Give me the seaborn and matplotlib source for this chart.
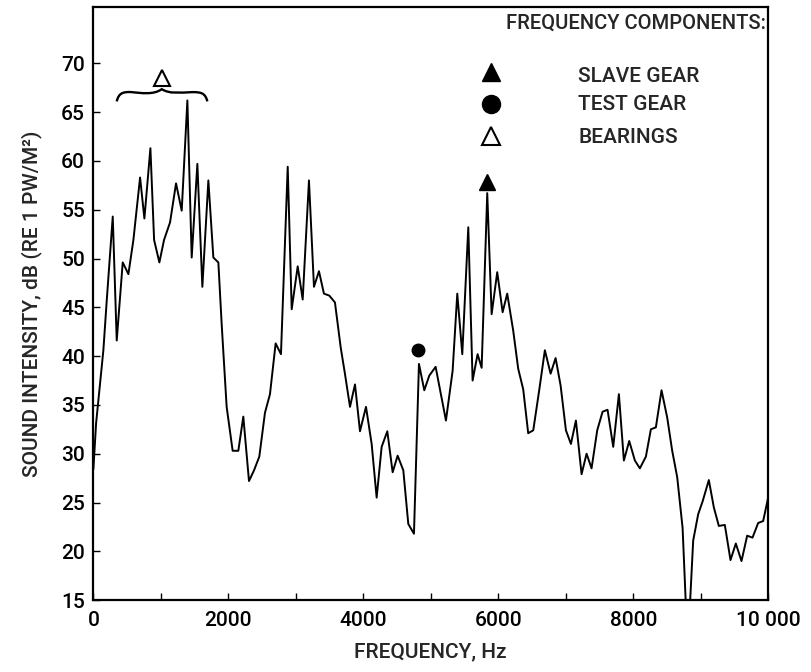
# -*- coding: utf-8 -*-
#
#  Sound intensity spectrum of a gear test rig, with frequency components marked.
#
import numpy as np
import pandas as pan
import seaborn as sns
import matplotlib.pyplot as plt
from matplotlib.path import Path
from matplotlib.patches import PathPatch

# spectrum
freq_hz = [0, 40, 148, 198, 287, 346, 435, 519, 593, 692, 756, 845, 900, 978,
           1047, 1136, 1225, 1309, 1393, 1457, 1541, 1615, 1704, 1778, 1852,
           1901, 1975, 2064, 2148, 2222, 2306, 2381, 2459, 2543, 2617, 2701,
           2780, 2880, 2939, 3028, 3102, 3195, 3269, 3343, 3417, 3496, 3580,
           3665, 3728, 3803, 3877, 3951, 4040, 4124, 4198, 4272, 4356, 4435,
           4509, 4593, 4667, 4751, 4825, 4904, 4978, 5072, 5225, 5324, 5393,
           5467, 5556, 5620, 5694, 5754, 5837, 5902, 5985, 6065, 6133, 6222,
           6296, 6370, 6444, 6519, 6607, 6691, 6776, 6850, 6924, 7003, 7077,
           7151, 7235, 7309, 7383, 7467, 7546, 7620, 7704, 7788, 7862, 7941,
           8025, 8099, 8188, 8262, 8336, 8420, 8504, 8578, 8652, 8732, 8808,
           8889, 8963, 9028, 9121, 9195, 9269, 9358, 9442, 9521, 9605, 9689,
           9768, 9852, 9926, 10000]
intensity_db = [28.4, 33.1, 40.6, 45.7, 54.3, 41.6, 49.6, 48.4, 51.9, 58.3, 54.1,
                61.3, 51.9, 49.6, 51.9, 53.7, 57.7, 54.9, 66.2, 50.1, 59.7, 47.1,
                58.0, 50.1, 49.6, 43.3, 34.8, 30.3, 30.3, 33.8, 27.2, 28.3, 29.7,
                34.2, 36.1, 41.3, 40.2, 59.4, 44.8, 49.2, 45.8, 58.0, 47.1, 48.7,
                46.4, 46.2, 45.5, 40.9, 38.2, 34.8, 37.1, 32.3, 34.8, 31.0, 25.5,
                30.7, 32.3, 28.1, 29.8, 28.3, 22.8, 21.8, 39.2, 36.5, 38.0, 38.9,
                33.4, 38.5, 46.4, 40.2, 53.2, 37.5, 40.2, 38.8, 56.7, 44.3, 48.6,
                44.5, 46.4, 42.6, 38.7, 36.6, 32.1, 32.4, 36.5, 40.6, 38.2, 39.8,
                37.0, 32.4, 31.0, 33.4, 27.9, 30.0, 28.5, 32.4, 34.3, 34.5, 30.7,
                36.1, 29.3, 31.3, 29.3, 28.5, 29.7, 32.5, 32.7, 36.5, 33.7, 30.3,
                27.6, 22.4, 10.0, 21.1, 23.8, 25.1, 27.3, 24.5, 22.6, 22.7, 19.1,
                20.8, 19.0, 21.6, 21.4, 22.9, 23.1, 25.5]

# component markers on the spectrum
slave_gear = (5828, 57.8)
test_gear = (4815, 40.6)
bearings = (1013, 68.5)
bearing_span = (346, 1689)

legend_labels = ['SLAVE GEAR', 'TEST GEAR', 'BEARINGS']
legend_y = [69.1, 65.8, 62.6]

y_ticks = list(range(15, 71, 5))
x_ticks = list(range(0, 10001, 1000))
x_labels = ['0', '', '2000', '', '4000', '', '6000', '', '8000', '', '10 000']

sns.set_theme(style='white')
plt.rcParams['font.family'] = ['Roboto', 'DejaVu Sans']
plt.rcParams['font.weight'] = 'medium'
plt.rcParams['axes.labelweight'] = 'medium'
plt.rcParams['axes.linewidth'] = 1.6
plt.rcParams['axes.edgecolor'] = 'black'

df = pan.DataFrame({'freq': freq_hz, 'db': intensity_db})

fig = plt.figure(figsize=(8.12, 6.72), dpi=100)
ax = fig.add_axes([0.115, 0.107, 0.831, 0.883])

sns.lineplot(data=df, x='freq', y='db', color='black', lw=1.4,
             estimator=None, sort=False, ax=ax)

ax.plot(*slave_gear, marker='^', ms=11, color='black', ls='none')
ax.plot(*test_gear, marker='o', ms=9, color='black', ls='none')
ax.plot(*bearings, marker='^', ms=11, mfc='white', mec='black', mew=1.5, ls='none')

# curly brace over the bearing range
x0, x1 = bearing_span
xm = bearings[0]
verts = [(x0, 66.1), (x0 + 30, 66.95), (x0 + 90, 67.1), (x0 + 220, 67.05),
         (xm - 300, 66.95), (xm - 120, 66.75), (xm, 67.35),
         (xm + 120, 66.85), (xm + 250, 67.0), (x1 - 220, 67.05),
         (x1 - 90, 67.05), (x1 - 30, 66.95), (x1, 66.1)]
codes = [Path.MOVETO] + [Path.CURVE4] * 12
ax.add_patch(PathPatch(Path(verts, codes), fc='none', ec='black', lw=1.7))

# frequency component key
ax.text(9960, 74.1, 'FREQUENCY COMPONENTS:', fontsize=14.5, va='center', ha='right')
ax.plot(5887, legend_y[0], marker='^', ms=13, color='black')
ax.plot(5887, legend_y[1], marker='o', ms=13, color='black')
ax.plot(5887, legend_y[2], marker='^', ms=13, mfc='white', mec='black', mew=1.5)
for lab, yy in zip(legend_labels, [68.7, 65.8, 62.4]):
    ax.text(7185, yy, lab, fontsize=15, va='center', ha='left')

ax.set_xlim(0, 10000)
ax.set_ylim(15, 75.8)
ax.set_xticks(x_ticks)
ax.set_xticklabels(x_labels)
ax.set_yticks(y_ticks)
ax.set_yticklabels([str(v) for v in y_ticks])
ax.tick_params(direction='in', length=5, width=1, colors='black', labelsize=15)
ax.tick_params(axis='x', pad=8)
ax.tick_params(axis='y', pad=6, left=True)
ax.tick_params(axis='x', bottom=True)
ax.set_xlabel('FREQUENCY, Hz', fontsize=15, labelpad=9)
ax.set_ylabel('SOUND INTENSITY, dB (RE 1 PW/M²)', fontsize=15, labelpad=14)

fig.savefig('out.png', dpi=100)
# EOF.
